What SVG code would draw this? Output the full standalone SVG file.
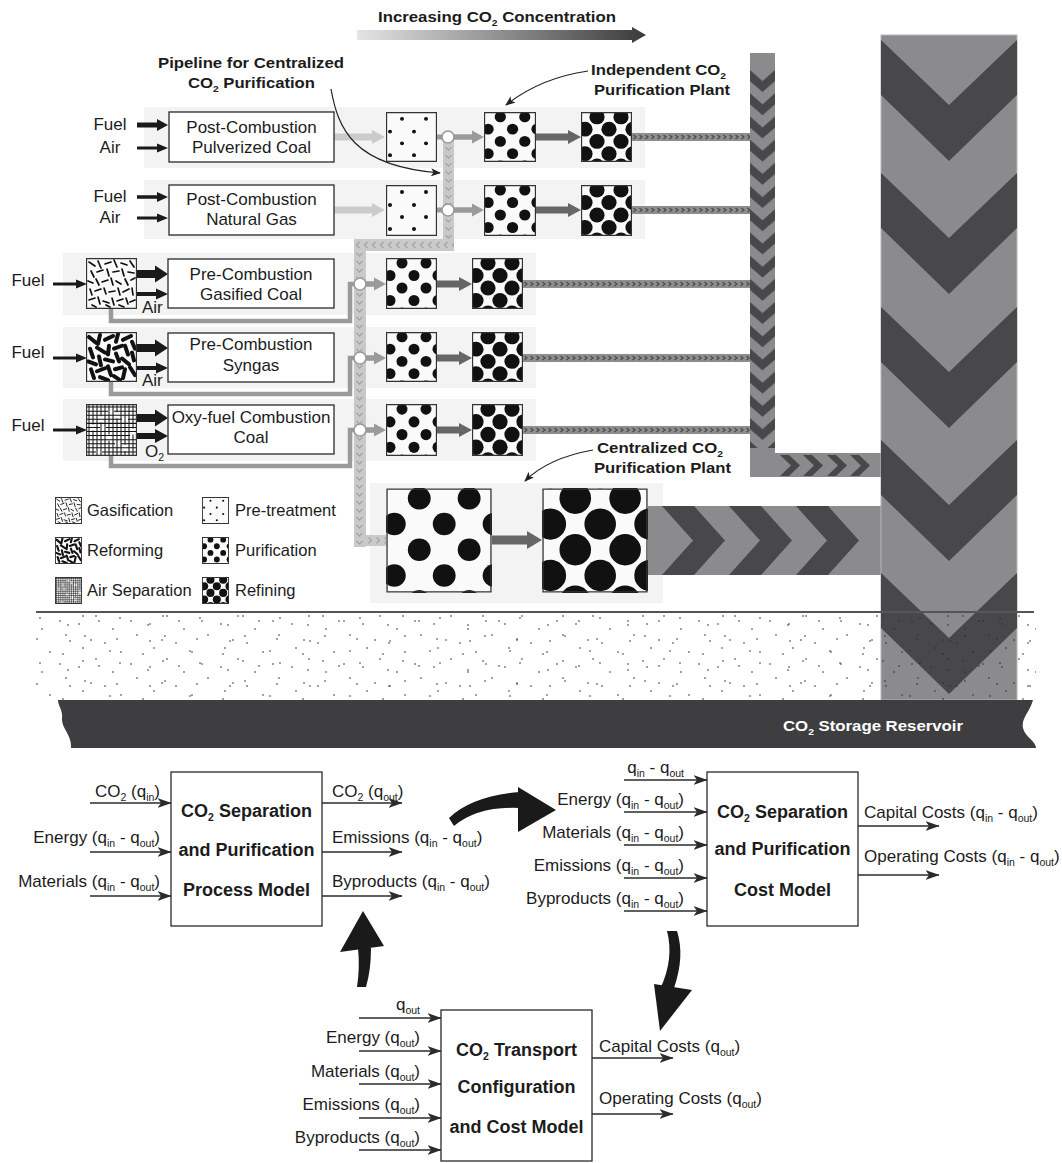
<svg xmlns="http://www.w3.org/2000/svg" width="1062" height="1163" viewBox="0 0 1062 1163">
<defs>
<style>
 .t{font-family:"Liberation Sans",Arial,Helvetica,sans-serif;fill:#1c1c1c}
 .lab{font-size:17px}
 .s{font-size:10.5px}
 .bx{font-size:17px}
 .lg{font-size:16.5px}
 .bt{font-size:18px;font-weight:bold}
 .hd{font-family:"Liberation Sans Narrow","Liberation Sans",Arial,sans-serif;font-weight:bold;font-size:15.5px;fill:#1c1c1c}
 .hs{font-size:9.5px}
 .box{fill:#fff;stroke:#2a2a2a;stroke-width:1.3}
 .band{fill:#f3f3f3}
 .ln{stroke:#2b2b2b;stroke-width:1.6;fill:none;marker-end:url(#ah)}
 .lead{stroke:#222;stroke-width:1.2;fill:none;marker-end:url(#ahs)}
 .pipe{fill:#8b8b8d}
 .chev{fill:#48484a}
 .blk{fill:#1a1a1a}
 .lt{fill:#cbcbcb}
 .md{fill:#9a9a9a}
 .dk{fill:#666}
 .ret{fill:none;stroke:#9a9a9a;stroke-width:4.5}
 .jn{fill:#fff;stroke:#9a9a9a;stroke-width:1.6}
 .edge{fill:none;stroke:#333;stroke-width:1.3}
</style>
<linearGradient id="gInc" gradientUnits="userSpaceOnUse" x1="357" y1="0" x2="646" y2="0">
 <stop offset="0" stop-color="#e4e4e4"/>
 <stop offset="1" stop-color="#3a3a3a"/>
</linearGradient>
<marker id="ah" viewBox="0 0 14 10" markerWidth="14" markerHeight="10" markerUnits="userSpaceOnUse" refX="13.5" refY="5" orient="auto">
 <path d="M0,0 L14,5 L0,10 L3.5,5 Z" fill="#2b2b2b"/>
</marker>
<marker id="ahs" viewBox="0 0 10 8" markerWidth="10" markerHeight="8" markerUnits="userSpaceOnUse" refX="9" refY="4" orient="auto">
 <path d="M0,0 L10,4 L0,8 L2.5,4 Z" fill="#222"/>
</marker>
<!-- pipe fills -->
<pattern id="lpV" width="11" height="8" patternUnits="userSpaceOnUse">
 <rect width="11" height="8" fill="#c9c9c9"/>
 <polyline points="2.5,2 5.5,5 8.5,2" fill="none" stroke="#a6a6a6" stroke-width="1.3"/>
</pattern>
<pattern id="lpH" width="8" height="12" patternUnits="userSpaceOnUse">
 <rect width="8" height="12" fill="#c9c9c9"/>
 <polyline points="5.5,3 2.5,6 5.5,9" fill="none" stroke="#a6a6a6" stroke-width="1.3"/>
</pattern>
<pattern id="lpR" width="8" height="11" patternUnits="userSpaceOnUse">
 <rect width="8" height="11" fill="#c9c9c9"/>
 <polyline points="2.5,2.5 5.5,5.5 2.5,8.5" fill="none" stroke="#a6a6a6" stroke-width="1.3"/>
</pattern>
<pattern id="spR" width="6" height="8" patternUnits="userSpaceOnUse">
 <rect width="6" height="8" fill="#8e8e8e"/>
 <polyline points="1.5,2 4,4 1.5,6" fill="none" stroke="#4a4a4a" stroke-width="1.2"/>
</pattern>
<pattern id="mpV" width="25" height="23.2" patternUnits="userSpaceOnUse">
 <rect width="25" height="23.2" fill="#8b8b8d"/>
 <polygon points="0,0 12.5,11 25,0 25,11 12.5,22 0,11" fill="#48484a"/>
</pattern>
<!-- two stipple tiles of different size, overlaid to avoid visible repeats -->
<pattern id="stipA" width="80" height="45" patternUnits="userSpaceOnUse">
 <g fill="#2a2a2a">
  <circle cx="5" cy="6" r="0.8"/><circle cx="37" cy="9" r="0.8"/><circle cx="70" cy="11" r="0.8"/>
  <circle cx="30" cy="21" r="0.8"/><circle cx="63" cy="24" r="0.8"/><circle cx="3" cy="31" r="0.8"/>
  <circle cx="40" cy="33" r="0.8"/><circle cx="68" cy="40" r="0.8"/><circle cx="19" cy="36" r="0.8"/>
 </g>
</pattern>
<pattern id="stipB" width="71" height="43" patternUnits="userSpaceOnUse">
 <g fill="#2a2a2a">
  <circle cx="12" cy="3" r="0.8"/><circle cx="50" cy="7" r="0.8"/><circle cx="25" cy="14" r="0.8"/>
  <circle cx="60" cy="19" r="0.8"/><circle cx="8" cy="22" r="0.8"/><circle cx="42" cy="27" r="0.8"/>
  <circle cx="66" cy="33" r="0.8"/><circle cx="20" cy="38" r="0.8"/><circle cx="34" cy="41" r="0.8"/>
 </g>
</pattern>
<!-- process texture tiles -->
<symbol id="sPre" viewBox="0 0 51 51" preserveAspectRatio="none">
 <rect width="51" height="51" fill="#fafafa"/>
 <g fill="#111">
  <circle cx="16" cy="7" r="2"/><circle cx="40" cy="7" r="2"/>
  <circle cx="4" cy="20" r="2"/><circle cx="28" cy="20" r="2"/>
  <circle cx="16" cy="32" r="2"/><circle cx="40" cy="32" r="2"/>
  <circle cx="4" cy="44" r="2"/><circle cx="28" cy="44" r="2"/>
 </g>
 <rect x="0.5" y="0.5" width="50" height="50" class="edge" vector-effect="non-scaling-stroke"/>
</symbol>
<symbol id="sPur" viewBox="0 0 51 51" preserveAspectRatio="none">
 <rect width="51" height="51" fill="#fafafa"/>
 <g fill="#111">
  <circle cx="4" cy="-7.5" r="5.5"/><circle cx="28" cy="-7.5" r="5.5"/><circle cx="52" cy="-7.5" r="5.5"/>
  <circle cx="16" cy="5" r="5.5"/><circle cx="40" cy="5" r="5.5"/>
  <circle cx="4" cy="17.5" r="5.5"/><circle cx="28" cy="17.5" r="5.5"/><circle cx="52" cy="17.5" r="5.5"/>
  <circle cx="16" cy="30" r="5.5"/><circle cx="40" cy="30" r="5.5"/>
  <circle cx="4" cy="42.5" r="5.5"/><circle cx="28" cy="42.5" r="5.5"/><circle cx="52" cy="42.5" r="5.5"/>
  <circle cx="16" cy="55" r="5.5"/><circle cx="40" cy="55" r="5.5"/>
 </g>
 <rect x="0.5" y="0.5" width="50" height="50" class="edge" vector-effect="non-scaling-stroke"/>
</symbol>
<symbol id="sRef" viewBox="0 0 51 51" preserveAspectRatio="none">
 <rect width="51" height="51" fill="#fafafa"/>
 <g fill="#111">
  <circle cx="4" cy="-7.5" r="7.6"/><circle cx="28" cy="-7.5" r="7.6"/><circle cx="52" cy="-7.5" r="7.6"/>
  <circle cx="16" cy="5" r="7.6"/><circle cx="40" cy="5" r="7.6"/>
  <circle cx="4" cy="17.5" r="7.6"/><circle cx="28" cy="17.5" r="7.6"/><circle cx="52" cy="17.5" r="7.6"/>
  <circle cx="16" cy="30" r="7.6"/><circle cx="40" cy="30" r="7.6"/>
  <circle cx="4" cy="42.5" r="7.6"/><circle cx="28" cy="42.5" r="7.6"/><circle cx="52" cy="42.5" r="7.6"/>
  <circle cx="16" cy="55" r="7.6"/><circle cx="40" cy="55" r="7.6"/>
 </g>
 <rect x="0.5" y="0.5" width="50" height="50" class="edge" vector-effect="non-scaling-stroke"/>
</symbol>
<symbol id="sGas" viewBox="0 0 51 51" preserveAspectRatio="none">
 <rect width="51" height="51" fill="#fafafa"/>
 <path d="M3,4L9,8M12,3L15,10M19,6L25,4M28,2L31,9M35,5L41,7M44,3L48,9M5,13L8,19M11,14L17,12M21,11L23,18M27,14L33,13M36,11L38,18M42,14L48,15M2,23L7,25M10,21L13,27M16,24L22,22M25,20L27,27M30,23L35,26M39,21L42,27M45,22L49,20M4,31L6,37M9,33L15,31M18,30L20,36M23,34L29,33M32,30L34,37M37,34L43,31M46,30L47,37M3,42L9,40M12,39L14,46M17,43L23,45M26,40L28,47M31,43L37,41M40,40L42,46M44,44L49,42M6,47L10,49M20,47L24,49M33,47L38,49" fill="none" stroke="#111" stroke-width="1.7" stroke-linecap="round"/>
 <rect x="0.5" y="0.5" width="50" height="50" class="edge" vector-effect="non-scaling-stroke"/>
</symbol>
<symbol id="sRefm" viewBox="0 0 51 51" preserveAspectRatio="none">
 <rect width="51" height="51" fill="#fafafa"/>
 <path d="M3,5L10,11M14,3L12,12M19,8L27,4M32,2L30,10M37,8L45,4M46,10L49,17M4,17L7,26M11,16L19,21M23,14L22,23M28,17L36,14M39,14L42,23M46,21L48,29M2,30L10,33M13,25L15,34M19,28L27,30M30,22L33,30M36,27L43,33M5,38L8,47M11,40L19,37M22,35L25,44M29,38L36,36M39,38L37,47M44,36L49,44M14,46L22,49M28,45L34,49" fill="none" stroke="#111" stroke-width="4" stroke-linecap="round"/>
 <rect x="0.5" y="0.5" width="50" height="50" class="edge" vector-effect="non-scaling-stroke"/>
</symbol>
<symbol id="sAir" viewBox="0 0 51 51" preserveAspectRatio="none">
 <rect width="51" height="51" fill="#fafafa"/>
 <path d="M3,0V51M7,0V20M7,26V51M11,0V51M15,0V12M15,18V51M19,0V51M23,0V30M23,36V51M27,0V51M31,0V8M31,14V51M35,0V51M39,0V40M39,46V51M43,0V51M47,0V24M47,30V51M0,3H51M0,7H22M28,7H51M0,11H51M0,15H36M42,15H51M0,19H51M0,23H14M20,23H51M0,27H51M0,31H44M0,35H51M0,39H29M35,39H51M0,43H51M0,47H10M16,47H51" fill="none" stroke="#111" stroke-width="1"/>
 <rect x="0.5" y="0.5" width="50" height="50" class="edge" vector-effect="non-scaling-stroke"/>
</symbol>
</defs>

<rect width="1062" height="1163" fill="#fff"/>

<!-- concentration arrow -->
<g id="concentration">
 <polygon points="357,30 632,30 632,27 646,35 632,43 632,40 357,40" fill="url(#gInc)"/>
 <text class="hd" x="378" y="22" textLength="238" lengthAdjust="spacingAndGlyphs">Increasing CO<tspan class="hs" dy="3.5">2</tspan><tspan dy="-3.5"> Concentration</tspan></text>
</g>

<!-- plant bands -->
<g id="bands">
 <rect class="band" x="144" y="107" width="501" height="61"/>
 <rect class="band" x="144" y="180" width="501" height="59"/>
 <rect class="band" x="63" y="253" width="473" height="62"/>
 <rect class="band" x="63" y="327" width="473" height="61"/>
 <rect class="band" x="63" y="399" width="473" height="62"/>
 <rect class="band" x="370" y="483" width="293" height="120"/>
</g>

<!-- connectors -->
<g id="connectors">
 <!-- small transport pipes -->
 <rect width="118" height="8" fill="url(#spR)" transform="translate(632,133)"/>
 <rect width="118" height="8" fill="url(#spR)" transform="translate(632,206)"/>
 <rect width="227" height="8" fill="url(#spR)" transform="translate(523,280)"/>
 <rect width="227" height="8" fill="url(#spR)" transform="translate(523,354)"/>
 <rect width="227" height="8" fill="url(#spR)" transform="translate(523,426)"/>
 <!-- collector pipe -->
 <rect class="pipe" x="750" y="53" width="25" height="424"/>
 <rect width="25" height="378" fill="url(#mpV)" transform="translate(750,70)"/>
 <rect class="pipe" x="750" y="453" width="132" height="24"/>
 <polygon class="chev" points="780,455 789,455 800,465.5 789,476 780,476 791,465.5"/>
 <polygon class="chev" points="803,455 812,455 823,465.5 812,476 803,476 814,465.5"/>
 <polygon class="chev" points="827,455 836,455 847,465.5 836,476 827,476 838,465.5"/>
 <polygon class="chev" points="850,455 859,455 870,465.5 859,476 850,476 861,465.5"/>
 <!-- centralized trunk -->
 <rect class="pipe" x="648" y="506" width="234" height="69"/>
 <polygon class="chev" points="662,506 694,506 725,540.5 694,575 662,575 693,540.5"/>
 <polygon class="chev" points="729,506 761,506 792,540.5 761,575 729,575 760,540.5"/>
 <polygon class="chev" points="796,506 828,506 859,540.5 828,575 796,575 827,540.5"/>
 <!-- injection well -->
 <rect x="881" y="35" width="136" height="665" fill="#8b8b8d" stroke="#b5b5b5" stroke-width="1"/>
 <polygon class="chev" points="881,40 949,105 1017,40 1017,95 949,161 881,95"/>
 <polygon class="chev" points="881,173 949,238 1017,173 1017,228 949,294 881,228"/>
 <polygon class="chev" points="881,307 949,372 1017,307 1017,362 949,428 881,362"/>
 <polygon class="chev" points="881,440 949,505 1017,440 1017,495 949,561 881,495"/>
 <polygon class="chev" points="881,573 949,638 1017,573 1017,628 949,694 881,628"/>
 <!-- pipeline for centralized purification -->
 <rect width="11" height="114" fill="url(#lpV)" transform="translate(443,137)"/>
 <rect width="100" height="12" fill="url(#lpH)" transform="translate(354,239)"/>
 <rect width="12" height="296" fill="url(#lpV)" transform="translate(354,251)"/>
 <rect width="20" height="11" fill="url(#lpR)" transform="translate(366,535)"/>
 <!-- return lines from pre-processing units -->
 <path class="ret" d="M111,309V321H350V284H356"/>
 <path class="ret" d="M111,382V394H350V358H356"/>
 <path class="ret" d="M111,456V466H350V430H356"/>
 <line x1="437" y1="137" x2="443" y2="137" stroke="#9a9a9a" stroke-width="5"/>
 <line x1="437" y1="210" x2="443" y2="210" stroke="#9a9a9a" stroke-width="5"/>
 <!-- feed arrows -->
 <polygon class="blk" points="137,122.5 157,122.5 157,119 168,125 157,131 157,127.5 137,127.5"/>
 <polygon class="blk" points="137,146.5 157,146.5 157,143.5 168,148 157,152.5 157,149.5 137,149.5"/>
 <polygon class="blk" points="137,195.2 157,195.2 157,192 168,197 157,202 157,198.8 137,198.8"/>
 <polygon class="blk" points="137,216.5 157,216.5 157,213.5 168,218 157,222.5 157,219.5 137,219.5"/>
 <polygon class="blk" points="53,282.5 76,282.5 76,279.5 87,284 76,288.5 76,285.5 53,285.5"/>
 <polygon class="blk" points="53,356.5 76,356.5 76,353.5 87,358 76,362.5 76,359.5 53,359.5"/>
 <polygon class="blk" points="53,428.5 76,428.5 76,425.5 87,430 76,434.5 76,431.5 53,431.5"/>
 <polygon class="blk" points="137,270 155,270 155,265.5 168,274 155,282.5 155,278 137,278"/>
 <polygon class="blk" points="137,344 155,344 155,339.5 168,348 155,356.5 155,352 137,352"/>
 <polygon class="blk" points="137,414 155,414 155,409.5 168,418 155,426.5 155,422 137,422"/>
 <polygon class="blk" points="137,292 156,292 156,288.5 168,294 156,299.5 156,296 137,296"/>
 <polygon class="blk" points="137,366 156,366 156,362.5 168,368 156,373.5 156,370 137,370"/>
 <polygon class="blk" points="137,433 155,433 155,429 168,436 155,443 155,439 137,439"/>
 <!-- flue gas to pre-treatment -->
 <polygon class="lt" points="334,133.5 372,133.5 372,130 385,137 372,144 372,140.5 334,140.5"/>
 <polygon class="lt" points="334,206.5 372,206.5 372,203 385,210 372,217 372,213.5 334,213.5"/>
 <!-- junction to purification -->
 <polygon class="md" points="454,134.2 472,134.2 472,130.5 484,137 472,143.5 472,139.8 454,139.8"/>
 <polygon class="md" points="454,207.2 472,207.2 472,203.5 484,210 472,216.5 472,212.8 454,212.8"/>
 <polygon class="md" points="366,281.2 374,281.2 374,277.5 386,284 374,290.5 374,286.8 366,286.8"/>
 <polygon class="md" points="366,355.2 374,355.2 374,351.5 386,358 374,364.5 374,360.8 366,360.8"/>
 <polygon class="md" points="366,427.2 374,427.2 374,423.5 386,430 374,436.5 374,432.8 366,432.8"/>
 <!-- purification to refining -->
 <polygon class="dk" points="536,133.5 568,133.5 568,130 581,137 568,144 568,140.5 536,140.5"/>
 <polygon class="dk" points="536,206.5 568,206.5 568,203 581,210 568,217 568,213.5 536,213.5"/>
 <polygon class="dk" points="437,280.5 459,280.5 459,277 472,284 459,291 459,287.5 437,287.5"/>
 <polygon class="dk" points="437,354.5 459,354.5 459,351 472,358 459,365 459,361.5 437,361.5"/>
 <polygon class="dk" points="437,426.5 459,426.5 459,423 472,430 459,437 459,433.5 437,433.5"/>
 <polygon class="dk" points="492,535.5 527,535.5 527,531 542,540 527,549 527,544.5 492,544.5"/>
 <!-- junctions -->
 <circle class="jn" cx="448" cy="137" r="6"/>
 <circle class="jn" cx="448" cy="210" r="6"/>
 <circle class="jn" cx="360" cy="284" r="6"/>
 <circle class="jn" cx="360" cy="358" r="6"/>
 <circle class="jn" cx="360" cy="430" r="6"/>
 <!-- callout leaders -->
 <path class="lead" d="M331,89 C338,128 352,166 440,173"/>
 <path class="lead" d="M588,71 Q540,78 506,105"/>
 <path class="lead" d="M593,450 Q548,458 525,481"/>
</g>

<!-- row 1 -->
<g id="post-pulverized-coal">
 <text class="t lab" x="110" y="130" text-anchor="middle">Fuel</text>
 <text class="t lab" x="110" y="153" text-anchor="middle">Air</text>
 <rect class="box" x="169" y="112" width="165" height="50"/>
 <text class="t bx" x="251.5" y="133" text-anchor="middle">Post-Combustion</text>
 <text class="t bx" x="251.5" y="153" text-anchor="middle">Pulverized Coal</text>
 <use href="#sPre" x="386" y="112" width="51" height="50"/>
 <use href="#sPur" x="484" y="112" width="52" height="50"/>
 <use href="#sRef" x="581" y="112" width="51" height="50"/>
</g>
<!-- row 2 -->
<g id="post-natural-gas">
 <text class="t lab" x="110" y="202" text-anchor="middle">Fuel</text>
 <text class="t lab" x="110" y="223" text-anchor="middle">Air</text>
 <rect class="box" x="169" y="185" width="165" height="50"/>
 <text class="t bx" x="251.5" y="205" text-anchor="middle">Post-Combustion</text>
 <text class="t bx" x="251.5" y="225" text-anchor="middle">Natural Gas</text>
 <use href="#sPre" x="386" y="185" width="51" height="51"/>
 <use href="#sPur" x="484" y="185" width="52" height="51"/>
 <use href="#sRef" x="581" y="185" width="51" height="51"/>
</g>
<!-- row 3 -->
<g id="pre-gasified-coal">
 <text class="t lab" x="28" y="286" text-anchor="middle">Fuel</text>
 <use href="#sGas" x="86" y="258" width="51" height="51"/>
 <text class="t lab" x="142" y="313">Air</text>
 <rect class="box" x="168" y="259" width="166" height="49"/>
 <text class="t bx" x="251" y="280" text-anchor="middle">Pre-Combustion</text>
 <text class="t bx" x="251" y="300" text-anchor="middle">Gasified Coal</text>
 <use href="#sPur" x="386" y="258" width="51" height="51"/>
 <use href="#sRef" x="472" y="258" width="51" height="51"/>
</g>
<!-- row 4 -->
<g id="pre-syngas">
 <text class="t lab" x="28" y="358" text-anchor="middle">Fuel</text>
 <use href="#sRefm" x="86" y="332" width="51" height="50"/>
 <text class="t lab" x="142" y="386">Air</text>
 <rect class="box" x="168" y="333" width="166" height="49"/>
 <text class="t bx" x="251" y="350" text-anchor="middle">Pre-Combustion</text>
 <text class="t bx" x="251" y="371" text-anchor="middle">Syngas</text>
 <use href="#sPur" x="386" y="332" width="51" height="50"/>
 <use href="#sRef" x="472" y="332" width="51" height="50"/>
</g>
<!-- row 5 -->
<g id="oxy-fuel-coal">
 <text class="t lab" x="28" y="431" text-anchor="middle">Fuel</text>
 <use href="#sAir" x="86" y="404" width="51" height="52"/>
 <text class="t lab" x="145" y="457">O<tspan class="s" dy="4">2</tspan></text>
 <rect class="box" x="168" y="405" width="166" height="49"/>
 <text class="t bx" x="251" y="423" text-anchor="middle">Oxy-fuel Combustion</text>
 <text class="t bx" x="251" y="443" text-anchor="middle">Coal</text>
 <use href="#sPur" x="386" y="404" width="51" height="52"/>
 <use href="#sRef" x="472" y="404" width="51" height="52"/>
</g>
<!-- centralized plant -->
<g id="centralized-plant">
 <use href="#sPur" x="386" y="488" width="106" height="105"/>
 <use href="#sRef" x="542" y="488" width="106" height="105"/>
</g>

<!-- callout labels -->
<g id="callouts">
 <text class="hd" x="158" y="68" textLength="186" lengthAdjust="spacingAndGlyphs">Pipeline for Centralized</text>
 <text class="hd" x="188" y="88" textLength="127" lengthAdjust="spacingAndGlyphs">CO<tspan class="hs" dy="3.5">2</tspan><tspan dy="-3.5"> Purification</tspan></text>
 <text class="hd" x="591" y="75" textLength="135" lengthAdjust="spacingAndGlyphs">Independent CO<tspan class="hs" dy="3.5">2</tspan></text>
 <text class="hd" x="594" y="95" textLength="136" lengthAdjust="spacingAndGlyphs">Purification Plant</text>
 <text class="hd" x="597" y="453" textLength="126" lengthAdjust="spacingAndGlyphs">Centralized CO<tspan class="hs" dy="3.5">2</tspan></text>
 <text class="hd" x="594" y="473" textLength="137" lengthAdjust="spacingAndGlyphs">Purification Plant</text>
</g>

<!-- legend -->
<g id="legend">
 <use href="#sGas" x="55" y="497" width="27" height="27"/>
 <use href="#sRefm" x="55" y="537" width="27" height="27"/>
 <use href="#sAir" x="55" y="577" width="27" height="27"/>
 <use href="#sPre" x="202" y="497" width="27" height="27"/>
 <use href="#sPur" x="202" y="537" width="27" height="27"/>
 <use href="#sRef" x="202" y="577" width="27" height="27"/>
 <text class="t lg" x="87" y="516">Gasification</text>
 <text class="t lg" x="87" y="556">Reforming</text>
 <text class="t lg" x="87" y="596">Air Separation</text>
 <text class="t lg" x="235" y="516">Pre-treatment</text>
 <text class="t lg" x="235" y="556">Purification</text>
 <text class="t lg" x="235" y="596">Refining</text>
</g>

<!-- ground and reservoir -->
<g id="ground">
 <rect x="36" y="614" width="1000" height="86" fill="url(#stipA)"/>
 <rect x="36" y="614" width="1000" height="86" fill="url(#stipB)"/>
 <line x1="36" y1="612" x2="1034" y2="612" stroke="#555" stroke-width="2"/>
</g>
<g id="reservoir">
 <path d="M58,700 L1033,700 C1030,712 1021,718 1023,728 C1025,737 1036,741 1036,748 L71,748 C72,735 61,728 62,718 C63,710 58,706 58,700 Z" fill="#3e3e40"/>
 <text class="hd" x="783" y="731" textLength="180" lengthAdjust="spacingAndGlyphs" style="fill:#fff">CO<tspan class="hs" dy="3.5">2</tspan><tspan dy="-3.5"> Storage Reservoir</tspan></text>
</g>

<!-- process model -->
<g id="process-model">
 <rect class="box" x="171" y="772" width="151" height="154"/>
 <text class="t bt" x="246.5" y="817" text-anchor="middle">CO<tspan class="s" dy="4">2</tspan><tspan dy="-4"> Separation</tspan></text>
 <text class="t bt" x="246.5" y="856" text-anchor="middle">and Purification</text>
 <text class="t bt" x="246.5" y="896" text-anchor="middle">Process Model</text>
 <text class="t lab" x="160" y="797" text-anchor="end">CO<tspan class="s" dy="4">2</tspan><tspan dy="-4"> (q</tspan><tspan class="s" dy="4">in</tspan><tspan dy="-4">)</tspan></text>
 <text class="t lab" x="160" y="843" text-anchor="end">Energy (q<tspan class="s" dy="4">in</tspan><tspan dy="-4"> - q</tspan><tspan class="s" dy="4">out</tspan><tspan dy="-4">)</tspan></text>
 <text class="t lab" x="160" y="887" text-anchor="end">Materials (q<tspan class="s" dy="4">in</tspan><tspan dy="-4"> - q</tspan><tspan class="s" dy="4">out</tspan><tspan dy="-4">)</tspan></text>
 <text class="t lab" x="332" y="797">CO<tspan class="s" dy="4">2</tspan><tspan dy="-4"> (q</tspan><tspan class="s" dy="4">out</tspan><tspan dy="-4">)</tspan></text>
 <text class="t lab" x="332" y="843">Emissions (q<tspan class="s" dy="4">in</tspan><tspan dy="-4"> - q</tspan><tspan class="s" dy="4">out</tspan><tspan dy="-4">)</tspan></text>
 <text class="t lab" x="332" y="887">Byproducts (q<tspan class="s" dy="4">in</tspan><tspan dy="-4"> - q</tspan><tspan class="s" dy="4">out</tspan><tspan dy="-4">)</tspan></text>
</g>

<!-- cost model -->
<g id="cost-model">
 <rect class="box" x="707" y="772" width="151" height="154"/>
 <text class="t bt" x="782.5" y="818" text-anchor="middle">CO<tspan class="s" dy="4">2</tspan><tspan dy="-4"> Separation</tspan></text>
 <text class="t bt" x="782.5" y="855" text-anchor="middle">and Purification</text>
 <text class="t bt" x="782.5" y="896" text-anchor="middle">Cost Model</text>
 <text class="t lab" x="684" y="773" text-anchor="end">q<tspan class="s" dy="4">in</tspan><tspan dy="-4"> - q</tspan><tspan class="s" dy="4">out</tspan></text>
 <text class="t lab" x="684" y="805" text-anchor="end">Energy (q<tspan class="s" dy="4">in</tspan><tspan dy="-4"> - q</tspan><tspan class="s" dy="4">out</tspan><tspan dy="-4">)</tspan></text>
 <text class="t lab" x="684" y="838" text-anchor="end">Materials (q<tspan class="s" dy="4">in</tspan><tspan dy="-4"> - q</tspan><tspan class="s" dy="4">out</tspan><tspan dy="-4">)</tspan></text>
 <text class="t lab" x="684" y="871" text-anchor="end">Emissions (q<tspan class="s" dy="4">in</tspan><tspan dy="-4"> - q</tspan><tspan class="s" dy="4">out</tspan><tspan dy="-4">)</tspan></text>
 <text class="t lab" x="684" y="904" text-anchor="end">Byproducts (q<tspan class="s" dy="4">in</tspan><tspan dy="-4"> - q</tspan><tspan class="s" dy="4">out</tspan><tspan dy="-4">)</tspan></text>
 <text class="t lab" x="864" y="818">Capital Costs (q<tspan class="s" dy="4">in</tspan><tspan dy="-4"> - q</tspan><tspan class="s" dy="4">out</tspan><tspan dy="-4">)</tspan></text>
 <text class="t lab" x="864" y="862">Operating Costs (q<tspan class="s" dy="4">in</tspan><tspan dy="-4"> - q</tspan><tspan class="s" dy="4">out</tspan><tspan dy="-4">)</tspan></text>
</g>

<!-- transport model -->
<g id="transport-model">
 <rect class="box" x="441" y="1010" width="151" height="151"/>
 <text class="t bt" x="516.5" y="1056" text-anchor="middle">CO<tspan class="s" dy="4">2</tspan><tspan dy="-4"> Transport</tspan></text>
 <text class="t bt" x="516.5" y="1093" text-anchor="middle">Configuration</text>
 <text class="t bt" x="516.5" y="1133" text-anchor="middle">and Cost Model</text>
 <text class="t lab" x="420" y="1010" text-anchor="end">q<tspan class="s" dy="4">out</tspan></text>
 <text class="t lab" x="420" y="1043" text-anchor="end">Energy (q<tspan class="s" dy="4">out</tspan><tspan dy="-4">)</tspan></text>
 <text class="t lab" x="420" y="1077" text-anchor="end">Materials (q<tspan class="s" dy="4">out</tspan><tspan dy="-4">)</tspan></text>
 <text class="t lab" x="420" y="1110" text-anchor="end">Emissions (q<tspan class="s" dy="4">out</tspan><tspan dy="-4">)</tspan></text>
 <text class="t lab" x="420" y="1143" text-anchor="end">Byproducts (q<tspan class="s" dy="4">out</tspan><tspan dy="-4">)</tspan></text>
 <text class="t lab" x="599" y="1052">Capital Costs (q<tspan class="s" dy="4">out</tspan><tspan dy="-4">)</tspan></text>
 <text class="t lab" x="599" y="1104">Operating Costs (q<tspan class="s" dy="4">out</tspan><tspan dy="-4">)</tspan></text>
</g>

<!-- model flow arrows -->
<g id="model-connectors">
 <path class="ln" d="M90,803H171"/>
 <path class="ln" d="M90,852H171"/>
 <path class="ln" d="M90,896H171"/>
 <path class="ln" d="M322,803H402"/>
 <path class="ln" d="M322,852H402"/>
 <path class="ln" d="M322,896H402"/>
 <path class="ln" d="M624,780H707"/>
 <path class="ln" d="M624,812H707"/>
 <path class="ln" d="M624,845H707"/>
 <path class="ln" d="M624,878H707"/>
 <path class="ln" d="M624,911H707"/>
 <path class="ln" d="M858,826H939"/>
 <path class="ln" d="M858,875H939"/>
 <path class="ln" d="M359,1018H441"/>
 <path class="ln" d="M359,1051H441"/>
 <path class="ln" d="M359,1084H441"/>
 <path class="ln" d="M359,1118H441"/>
 <path class="ln" d="M359,1150H441"/>
 <path class="ln" d="M592,1058H673"/>
 <path class="ln" d="M592,1114H673"/>
 <!-- thick flow arrows between models -->
 <path class="blk" d="M449,818 Q472,796 520,792 L520,808 Q478,806 454,826 Z"/>
 <path class="blk" d="M518,787 L556,810 L518,832 Z"/>
 <path class="blk" d="M357,987 Q360,968 358,948 L371,948 Q371,970 366,987 Z"/>
 <path class="blk" d="M340,952 L363,911 L384,946 Z"/>
 <path class="blk" d="M667,931 Q674,958 661,987 L674,988 Q685,956 677,931 Z"/>
 <path class="blk" d="M654,984 L660,1031 L692,990 Z"/>
</g>
</svg>
